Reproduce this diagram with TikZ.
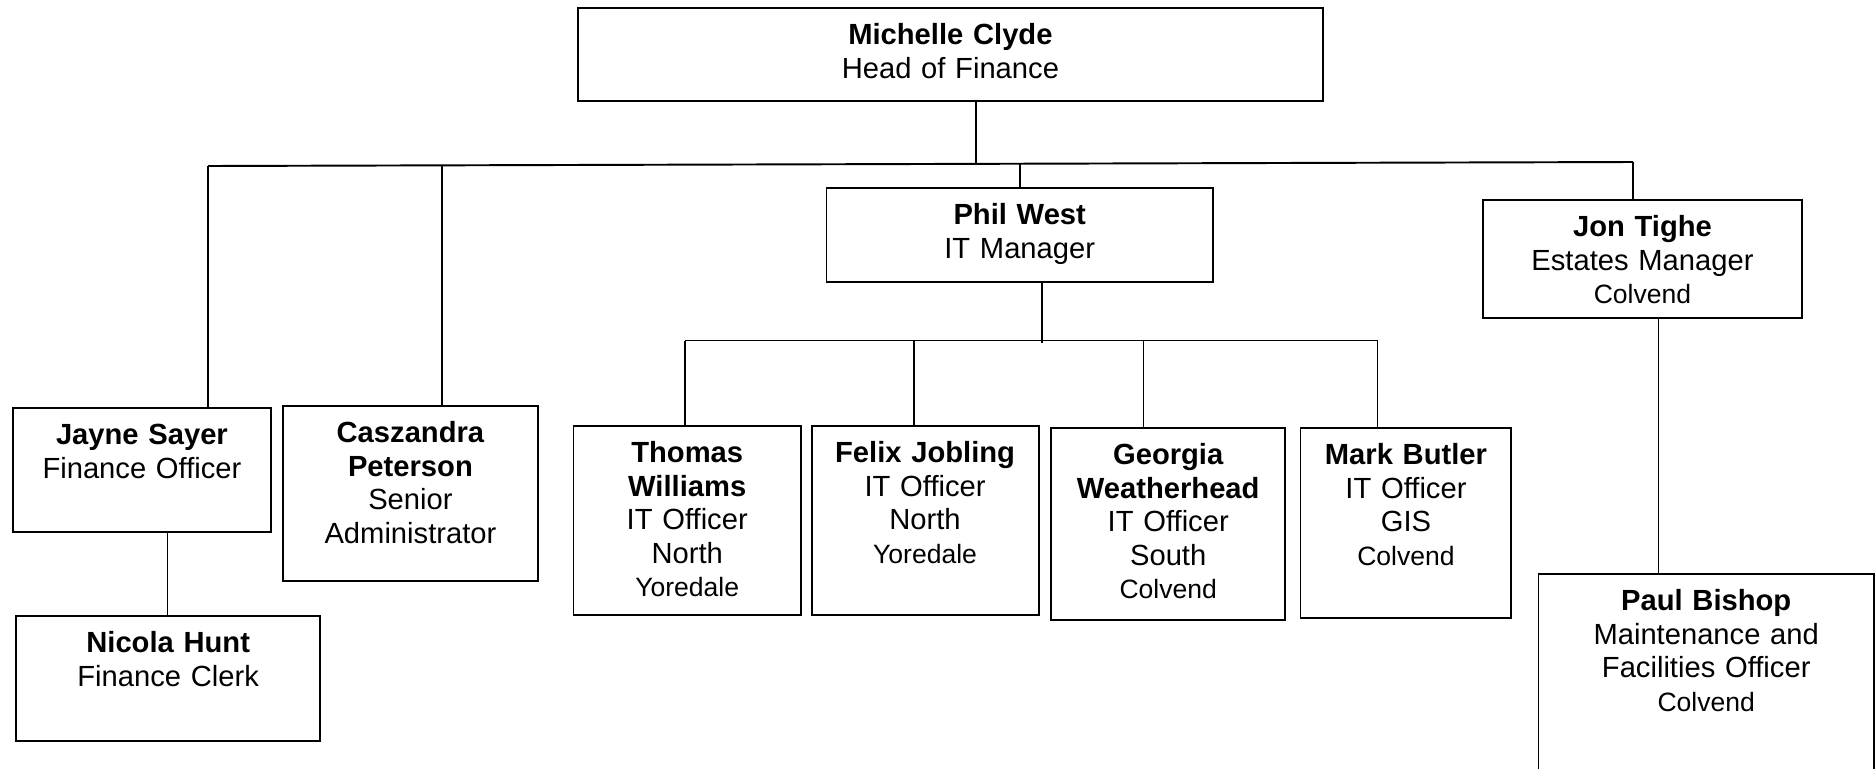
\documentclass[tikz,border=0pt]{standalone}
\usepackage{fontspec}
\setmainfont{Liberation Sans}
\newcommand{\nm}[1]{{\bfseries #1}}
\newcommand{\sm}[1]{{\fontsize{15.1pt}{19pt}\selectfont #1}}
\begin{document}
\begin{tikzpicture}[x=0.02cm,y=-0.02cm,
  person/.style={draw,line width=1.1pt,anchor=north west,inner sep=0pt,align=center,
    text height=0.74cm,font=\fontsize{16.6pt}{19pt}\selectfont},
  link/.style={line width=0.9pt},
  bar/.style={line width=1.1pt}]
\clip (0,0) rectangle (1875,768);
\fill[white] (0,0) rectangle (1875,768);
\node[person,text width=14.9cm,text depth=1.12cm] (head) at (577,7) {\nm{Michelle Clyde}\\Head of Finance};
\node[person,text width=7.73cm,text depth=1.14cm] (phil) at (825.5,187) {\nm{Phil West}\\IT Manager};
\node[person,text width=6.38cm,text depth=1.62cm] (jon) at (1482,199) {\nm{Jon Tighe}\\Estates Manager\\\sm{Colvend}};
\node[person,text width=5.16cm,text depth=1.74cm] (jayne) at (12,407) {\nm{Jayne Sayer}\\Finance Officer};
\node[person,text width=5.1cm,text depth=2.76cm] (casz) at (282,405) {\nm{Caszandra}\\\nm{Peterson}\\Senior\\Administrator};
\node[person,text width=6.09cm,text depth=1.76cm] (nicola) at (15,615) {\nm{Nicola Hunt}\\Finance Clerk};
\node[person,text width=4.55cm,text depth=3.04cm] (thomas) at (572.5,425) {\nm{Thomas}\\\nm{Williams}\\IT Officer\\North\\\sm{Yoredale}};
\node[person,text width=4.54cm,text depth=3.04cm] (felix) at (810.6,425) {\nm{Felix Jobling}\\IT Officer\\North\\\sm{Yoredale}};
\node[person,text width=4.69cm,text depth=3.10cm] (georgia) at (1050,427) {\nm{Georgia}\\\nm{Weatherhead}\\IT Officer\\South\\\sm{Colvend}};
\node[person,text width=4.22cm,text depth=3.06cm] (mark) at (1299.5,427) {\nm{Mark Butler}\\IT Officer\\GIS\\\sm{Colvend}};
\node[person,text width=6.71cm,text depth=4.3cm] (paul) at (1537.5,573) {\nm{Paul Bishop}\\Maintenance and\\Facilities Officer\\\sm{Colvend}};
\coordinate (topl) at (208,166);
\coordinate (topm) at (976,163.5);
\coordinate (topc) at (442,165.5);
\coordinate (topp) at (1020,163);
\coordinate (topr) at (1633,162);
\coordinate (itl) at (685,340.5);
\coordinate (itm) at (1042,343);
\coordinate (itf) at (914,340.5);
\coordinate (itg) at (1143.6,340.5);
\coordinate (itr) at (1377.5,340.5);
\draw[bar] (topl) -- (topr);
\draw[link] (topm |- head.south) -- (topm);
\draw[link] (topl) -- (topl |- jayne.north);
\draw[link] (topc) -- (topc |- casz.north);
\draw[link] (topp) -- (topp |- phil.north);
\draw[link] (topr) -- (topr |- jon.north);
\draw[bar] (itl) -- (itr);
\draw[link] (itm |- phil.south) -- (itm);
\draw[link] (itl) -- (itl |- thomas.north);
\draw[link] (itf) -- (itf |- felix.north);
\draw[link] (itg) -- (itg |- georgia.north);
\draw[link] (itr) -- (itr |- mark.north);
\draw[link] (1658.6,0 |- jon.south) -- (1658.6,0 |- paul.north);
\draw[link] (167.3,0 |- jayne.south) -- (167.3,0 |- nicola.north);
\end{tikzpicture}
\end{document}
